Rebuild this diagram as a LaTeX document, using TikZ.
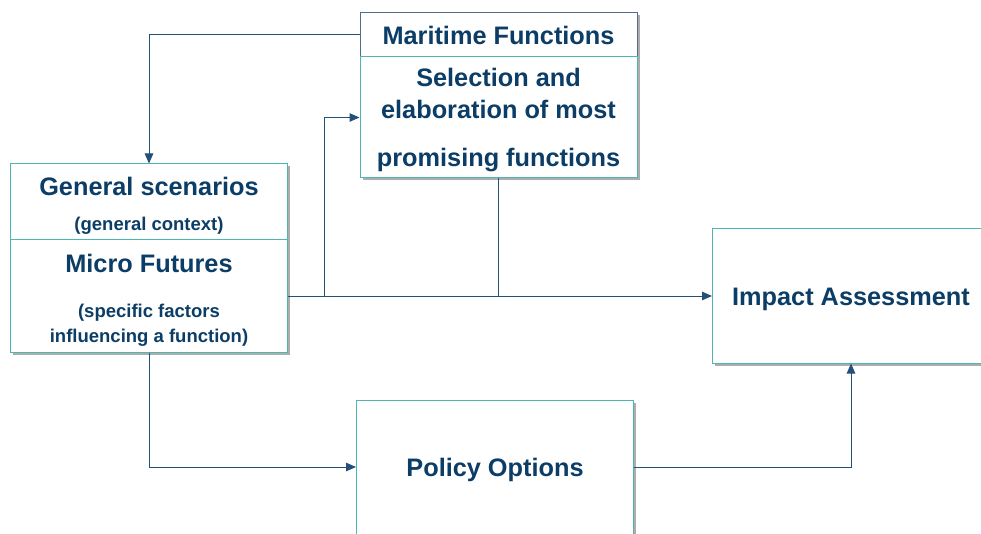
\documentclass[tikz,border=0pt]{standalone}
\usepackage{fontspec}
\setmainfont{Liberation Sans}
\usepackage{xcolor}
\usetikzlibrary{arrows.meta, positioning, shadows}
\definecolor{navytext}{HTML}{0B3D66}
\definecolor{navyline}{HTML}{23507A}
\definecolor{tealedge}{HTML}{4DB6B0}
\definecolor{slateedge}{HTML}{4F6F8C}
\newcommand{\subline}[1]{{\fontsize{18.5}{22}\selectfont #1}}
\newcommand{\topstrut}[1]{\rule{0pt}{#1}}

\begin{document}
\begin{tikzpicture}[x=1pt, y=-1pt,
    box/.style={draw=tealedge, line width=1pt, fill=white, minimum width=277pt, inner sep=0pt,
      align=center, text=navytext, font=\fontsize{25.3}{29}\selectfont\bfseries,
      drop shadow={shadow xshift=2.5pt, shadow yshift=-2.5pt, fill=black!32, opacity=1}},
    conn/.style={draw=navyline, line width=1pt, -{Triangle[length=10pt,width=8.5pt]}},
    link/.style={draw=navyline, line width=1pt}]
  \useasboundingbox (0,0) rectangle (981,534);
  \clip (0,0) rectangle (981,534);

  % boxes
  \node[box, draw=slateedge, minimum height=44pt] (mhead) at (498.5,35) {Maritime Functions};
  \node[box, minimum height=121pt, below=-1pt of mhead] (mbody)
    {\topstrut{22.5pt}Selection and\\[3pt]elaboration of most\\[19pt]promising functions};
  \node[box, minimum height=76pt] (gen) at (149,202)
    {\topstrut{26pt}General scenarios\\[6pt]\subline{(general context)}};
  \node[box, minimum height=112pt, below=-1pt of gen] (micro)
    {\topstrut{26pt}Micro Futures\\[16pt]\subline{(specific factors}\\[-4pt]\subline{influencing a function)}};
  \node[box, minimum height=134pt] (impact) at (851,296) {\topstrut{24.5pt}Impact Assessment};
  \node[box, minimum height=134pt] (policy) at (495,467) {\topstrut{24.5pt}Policy Options};

  % connectors
  \coordinate (split) at (324,296);
  \draw[conn] (mhead.west) -| (gen.north);
  \draw[conn] (micro.east) -- (impact.west);
  \draw[conn] (split) |- (mbody.west);
  \draw[link] (mbody.south) -- (mbody.south |- micro.east);
  \draw[conn] (micro.south) |- (policy.west);
  \draw[conn] (policy.east) -| (impact.south);
\end{tikzpicture}
\end{document}
